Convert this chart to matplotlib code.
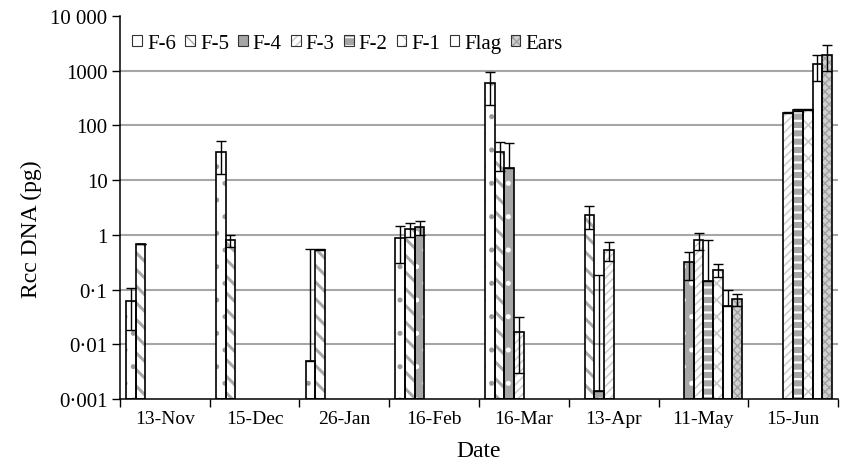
"""Rcc DNA per leaf layer, log bar chart."""
import numpy as np
import matplotlib
matplotlib.use("Agg")
import matplotlib.pyplot as plt
from matplotlib.patches import Patch
from matplotlib.legend_handler import HandlerTuple
from matplotlib.ticker import FixedLocator, NullFormatter

plt.rcParams["font.family"] = ["Liberation Serif", "DejaVu Serif"]

dates = ["13-Nov", "15-Dec", "26-Jan", "16-Feb", "16-Mar", "13-Apr", "11-May", "15-Jun"]
series = ["F-6", "F-5", "F-4", "F-3", "F-2", "F-1", "Flag", "Ears"]
nan = np.nan

# mean Rcc DNA (pg) per date, one list per leaf layer
f6 = [0.063, 32, 0.005, 0.88, 600, nan, nan, nan]
f5 = [0.69, 0.81, 0.54, 1.29, 32, 2.35, nan, nan]
f4 = [nan, nan, nan, 1.4, 17, 0.0014, 0.32, nan]
f3 = [nan, nan, nan, nan, 0.017, 0.54, 0.81, 172]
f2 = [nan, nan, nan, nan, nan, nan, 0.145, 192]
f1 = [nan, nan, nan, nan, nan, nan, 0.23, 193]
flag = [nan, nan, nan, nan, nan, nan, 0.05, 1300]
ears = [nan, nan, nan, nan, nan, nan, 0.067, 1950]

# standard errors
f6_err = [0.045, 19, 0.55, 0.58, 360, nan, nan, nan]
f5_err = [0.0, 0.2, 0.02, 0.36, 17, 1.05, nan, nan]
f4_err = [nan, nan, nan, 0.4, 30, 0.18, 0.17, nan]
f3_err = [nan, nan, nan, nan, 0.014, 0.21, 0.28, 5]
f2_err = [nan, nan, nan, nan, nan, nan, 0.66, 5]
f1_err = [nan, nan, nan, nan, nan, nan, 0.06, 5]
flag_err = [nan, nan, nan, nan, nan, nan, 0.05, 650]
ears_err = [nan, nan, nan, nan, nan, nan, 0.017, 950]

values = [f6, f5, f4, f3, f2, f1, flag, ears]
errors = [f6_err, f5_err, f4_err, f3_err, f2_err, f1_err, flag_err, ears_err]

# (face, hatch colour, hatch, hatch width)
styles = [
    ("white", "#9a9a9a", ".", 1.2),
    ("white", "#a8a8a8", "\\\\", 2.2),
    ("#a6a6a6", "white", ".", 1.2),
    ("white", "#cccccc", "////", 1.1),
    ("#a6a6a6", "white", "--", 1.6),
    ("white", "#c8c8c8", "xx", 1.2),
    ("white", "white", "", 1.0),
    ("#d0d0d0", "#a0a0a0", "xxxx", 1.0),
]


def hatched(**kw):
    lw = kw.pop("hlw")
    with plt.rc_context({"hatch.linewidth": lw}):
        p = Patch(**kw)
    if hasattr(p, "set_hatch_linewidth"):
        p.set_hatch_linewidth(lw)
    return p


fig = plt.figure(figsize=(8.43, 4.64), dpi=100)
ax = fig.add_axes([0.1423, 0.1379, 0.8518, 0.8255])
ax.set_yscale("log")

BASE = 0.001
w = 0.108
x = np.arange(len(dates)) + 0.5
for k, (vals, errs, (fc, hc, hatch, hlw)) in enumerate(zip(values, errors, styles)):
    v = np.array(vals, dtype=float)
    e = np.array(errs, dtype=float)
    xs = x + (k - 3.5) * w
    ok = ~np.isnan(v)
    with plt.rc_context({"hatch.linewidth": hlw}):
        bars = ax.bar(xs[ok], v[ok] - BASE, bottom=BASE, width=w,
                      color=fc, edgecolor=hc, hatch=hatch, linewidth=0, zorder=2)
    for b in bars:
        if hasattr(b, "set_hatch_linewidth"):
            b.set_hatch_linewidth(hlw)
    ax.bar(xs[ok], v[ok] - BASE, bottom=BASE, width=w, fill=False,
           edgecolor="black", linewidth=1.2, zorder=3)
    lower = np.where(e[ok] < v[ok], e[ok], 0.0)
    ax.errorbar(xs[ok], v[ok], yerr=[lower, e[ok]], fmt="none", ecolor="black",
                elinewidth=1.0, capsize=3.6, capthick=1.0, zorder=4)

ax.set_ylim(BASE, 10000)
ax.set_xlim(0, len(dates))
yt = [0.001, 0.01, 0.1, 1, 10, 100, 1000, 10000]
ax.yaxis.set_major_locator(FixedLocator(yt))
ax.yaxis.set_minor_locator(FixedLocator([]))
ax.yaxis.set_minor_formatter(NullFormatter())
ax.set_yticklabels(["0·001", "0·01", "0·1", "1", "10", "100", "1000", "10 000"])
for y in yt[1:-1]:
    ax.axhline(y, color="#a6a6a6", linewidth=1.5, zorder=1)

ax.set_xticks(np.arange(len(dates) + 1))
ax.set_xticklabels([])
ax.set_xticks(x, minor=True)
ax.set_xticklabels(dates, minor=True)
ax.tick_params(axis="x", which="minor", length=0, pad=8, labelsize=14)
ax.tick_params(axis="x", which="major", direction="out", length=6, width=1)
ax.tick_params(axis="y", direction="out", length=6, width=1, labelsize=15, pad=3)

for s in ("top", "right"):
    ax.spines[s].set_visible(False)
for s in ("left", "bottom"):
    ax.spines[s].set_linewidth(1.1)

ax.set_ylabel("Rcc DNA (pg)", fontsize=17)
ax.yaxis.set_label_coords(-0.108, 0.445)
ax.set_xlabel("Date", fontsize=17, labelpad=9)

handles = []
for fc, hc, hatch, hlw in styles:
    fill = hatched(facecolor=fc, edgecolor=hc, hatch=hatch, linewidth=0, hlw=0.8)
    edge = Patch(fill=False, edgecolor="#333333", linewidth=0.8)
    handles.append((fill, edge))
ax.legend(handles=handles, labels=series, loc="upper left", bbox_to_anchor=(0.0, 0.985),
          ncol=8, frameon=False, fontsize=15, handlelength=0.45, handleheight=0.45,
          handletextpad=0.25, columnspacing=0.45, borderaxespad=0.2,
          handler_map={tuple: HandlerTuple(ndivide=1)})

fig.savefig("out.png", dpi=100, facecolor="white")
